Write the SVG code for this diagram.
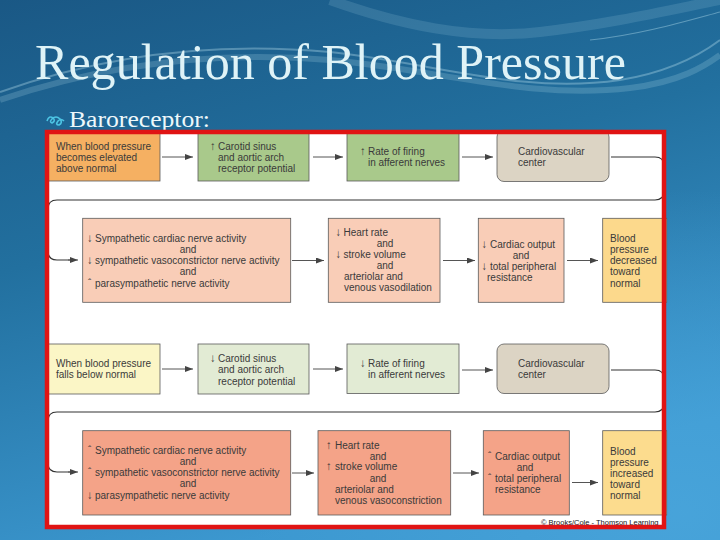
<svg xmlns="http://www.w3.org/2000/svg" width="720" height="540" viewBox="0 0 720 540">
<defs>
<linearGradient id="bg" x1="0" y1="0" x2="0.35" y2="1">
<stop offset="0" stop-color="#1a5885"/>
<stop offset="0.45" stop-color="#22709f"/>
<stop offset="1" stop-color="#3c98d0"/>
</linearGradient>
<radialGradient id="glow" cx="0.95" cy="0.95" r="0.6">
<stop offset="0" stop-color="#4aa6dc" stop-opacity="0.8"/>
<stop offset="1" stop-color="#4aa6dc" stop-opacity="0"/>
</radialGradient>
<marker id="ah" markerWidth="8" markerHeight="6" refX="8" refY="3" orient="auto" markerUnits="userSpaceOnUse">
<path d="M0,0 L8,3 L0,6 z" fill="#444"/>
</marker>
<style>
.box{stroke:#5a5a5a;stroke-width:0.8}
.t{font-family:"Liberation Sans",Arial,sans-serif;font-size:10px;fill:#3a3a3a}
.g{font-size:11.5px}
.m{text-anchor:middle}
.ar{stroke:#555;stroke-width:1;fill:none;marker-end:url(#ah)}
.cn{stroke:#333;stroke-width:1.2;fill:none}
</style>
</defs>
<rect width="720" height="540" fill="url(#bg)"/>
<rect width="720" height="540" fill="url(#glow)"/>
<g fill="none" stroke="#bfe6f2">
<path d="M0,92 C90,60 200,40 330,52 C430,62 520,95 620,80 C670,72 700,55 720,40" stroke-opacity="0.35" stroke-width="2"/>
<path d="M0,100 C100,66 210,50 330,60 C440,70 530,100 630,88 C680,82 705,66 720,55" stroke-opacity="0.2" stroke-width="6"/>
<path d="M330,0 C400,25 470,40 540,32 C610,24 670,10 720,0" stroke-opacity="0.15" stroke-width="10"/>
<path d="M590,40 C640,35 690,20 720,12" stroke-opacity="0.4" stroke-width="1.2"/>
</g>
<text x="35" y="79" font-family="'Liberation Serif','Times New Roman',serif" font-size="50" fill="#dff3f7" textLength="591" lengthAdjust="spacingAndGlyphs">Regulation of Blood Pressure</text>
<path d="M47,121 q2,-6 6,-3 q3,3 -1,5 q-3,-1 0,-4 q4,-4 8,0 q3,4 -1,6 q-4,0 -1,-4 q3,-3 6,0" fill="none" stroke="#4cc3e3" stroke-width="1.6"/>
<text x="69" y="127" font-family="'Liberation Serif','Times New Roman',serif" font-size="24" fill="#eef8fb" textLength="141" lengthAdjust="spacingAndGlyphs">Baroreceptor:</text>
<rect x="47" y="132" width="617" height="395" fill="#ffffff"/>

<g id="connectors">
<path class="ar" d="M162,157 H193"/>
<path class="ar" d="M313,157 H343"/>
<path class="ar" d="M462,157 H493"/>
<path class="cn" d="M611,157 H655 Q664,157 664,166 V191 Q664,200 655,200 H57 Q48,200 48,209 V251 Q48,260 57,260 H70"/>
<path class="ar" d="M68,260 H78"/>
<path class="ar" d="M292,260.5 H324"/>
<path class="ar" d="M443,260.5 H475"/>
<path class="ar" d="M567,260.5 H598"/>
<path class="ar" d="M162,369 H193"/>
<path class="ar" d="M313,369 H343"/>
<path class="ar" d="M462,370 H493"/>
<path class="cn" d="M611,370 H655 Q664,370 664,379 V403 Q664,412 655,412 H57 Q48,412 48,421 V463 Q48,472 57,472 H70"/>
<path class="ar" d="M68,472 H78"/>
<path class="ar" d="M292,473 H314"/>
<path class="ar" d="M453,473 H479"/>
<path class="ar" d="M572,482.5 H598"/>
</g>

<g id="n1"><rect class="box" x="48" y="133" width="112" height="48" fill="#f5b062"/>
<text class="t" x="56" y="150.2">When blood pressure</text>
<text class="t" x="56" y="161">becomes elevated</text>
<text class="t" x="56" y="172">above normal</text></g>

<g id="n2"><rect class="box" x="198" y="133" width="111" height="48" fill="#a9c98b"/>
<text class="t g" x="210" y="150.2">↑</text><text class="t" x="218" y="150.2">Carotid sinus</text>
<text class="t" x="218" y="161">and aortic arch</text>
<text class="t" x="218" y="172">receptor potential</text></g>

<g id="n3"><rect class="box" x="347" y="133" width="112" height="48" fill="#a9c98b"/>
<text class="t g" x="360" y="154.5">↑</text><text class="t" x="368" y="154.5">Rate of firing</text>
<text class="t" x="368" y="165.5">in afferent nerves</text></g>

<g id="n4"><rect class="box" x="497" y="130" width="112" height="51.5" rx="7" fill="#dcd4c4"/>
<text class="t" x="518" y="154.5">Cardiovascular</text>
<text class="t" x="518" y="165.5">center</text></g>

<g id="n5"><rect class="box" x="82.7" y="218.3" width="208" height="84" fill="#f9cdb7"/>
<text class="t g" x="87" y="241.8">↓</text><text class="t" x="95" y="241.8">Sympathetic cardiac nerve activity</text>
<text class="t m" x="188" y="253">and</text>
<text class="t g" x="87" y="264.2">↓</text><text class="t" x="95" y="264.2">sympathetic vasoconstrictor nerve activity</text>
<text class="t m" x="188" y="275.2">and</text>
<text class="t" x="88" y="286.5">ˆ</text><text class="t" x="95" y="286.5">parasympathetic nerve activity</text></g>

<g id="n6"><rect class="box" x="328.3" y="218.3" width="111.7" height="84" fill="#f9cdb7"/>
<text class="t g" x="335.5" y="235.8">↓</text><text class="t" x="343.5" y="235.8">Heart rate</text>
<text class="t m" x="385" y="247">and</text>
<text class="t g" x="335.5" y="258">↓</text><text class="t" x="343.5" y="258">stroke volume</text>
<text class="t m" x="385" y="269">and</text>
<text class="t" x="344" y="280.2">arteriolar and</text>
<text class="t" x="344" y="291.2">venous vasodilation</text></g>

<g id="n7"><rect class="box" x="478.3" y="218.3" width="85.7" height="84" fill="#f9cdb7"/>
<text class="t g" x="481.5" y="247.5">↓</text><text class="t" x="490" y="247.5">Cardiac output</text>
<text class="t m" x="521" y="258.8">and</text>
<text class="t g" x="481.5" y="270.2">↓</text><text class="t" x="490" y="270.2">total peripheral</text>
<text class="t" x="487" y="281.2">resistance</text></g>

<g id="n8"><rect class="box" x="602.7" y="218.3" width="64" height="84" fill="#fcd98c"/>
<text class="t" x="610" y="241.8">Blood</text>
<text class="t" x="610" y="253">pressure</text>
<text class="t" x="610" y="264.2">decreased</text>
<text class="t" x="610" y="275.2">toward</text>
<text class="t" x="610" y="286.5">normal</text></g>

<g id="n9"><rect class="box" x="48" y="344" width="112" height="50" fill="#fbf6c6"/>
<text class="t" x="56" y="366.8">When blood pressure</text>
<text class="t" x="56" y="377.5">falls below normal</text></g>

<g id="n10"><rect class="box" x="198" y="344" width="111" height="50" fill="#e2ebd4"/>
<text class="t g" x="210" y="361.8">↓</text><text class="t" x="218" y="361.8">Carotid sinus</text>
<text class="t" x="218" y="373.2">and aortic arch</text>
<text class="t" x="218" y="384.5">receptor potential</text></g>

<g id="n11"><rect class="box" x="347" y="344" width="112" height="49.5" fill="#e2ebd4"/>
<text class="t g" x="360" y="366.8">↓</text><text class="t" x="368" y="366.8">Rate of firing</text>
<text class="t" x="368" y="377.5">in afferent nerves</text></g>

<g id="n12"><rect class="box" x="497" y="344" width="112" height="49.5" rx="7" fill="#dcd4c4"/>
<text class="t" x="518" y="366.8">Cardiovascular</text>
<text class="t" x="518" y="377.5">center</text></g>

<g id="n13"><rect class="box" x="82.7" y="430.7" width="208" height="84.3" fill="#f4a388"/>
<text class="t" x="88" y="454.2">ˆ</text><text class="t" x="95" y="454.2">Sympathetic cardiac nerve activity</text>
<text class="t m" x="188" y="465.2">and</text>
<text class="t" x="88" y="476.2">ˆ</text><text class="t" x="95" y="476.2">sympathetic vasoconstrictor nerve activity</text>
<text class="t m" x="188" y="486.8">and</text>
<text class="t g" x="87" y="498.5">↓</text><text class="t" x="95" y="498.5">parasympathetic nerve activity</text></g>

<g id="n14"><rect class="box" x="318" y="430.7" width="132.7" height="84.3" fill="#f4a388"/>
<text class="t g" x="326" y="448.5">↑</text><text class="t" x="335" y="448.5">Heart rate</text>
<text class="t m" x="378" y="460.2">and</text>
<text class="t g" x="326" y="470.2">↑</text><text class="t" x="335" y="470.2">stroke volume</text>
<text class="t m" x="378" y="481.5">and</text>
<text class="t" x="335" y="492.8">arteriolar and</text>
<text class="t" x="335" y="504.2">venous vasoconstriction</text></g>

<g id="n15"><rect class="box" x="483.3" y="430.7" width="86" height="84.3" fill="#f4a388"/>
<text class="t" x="488" y="460.2">ˆ</text><text class="t" x="495" y="460.2">Cardiac output</text>
<text class="t m" x="525" y="470.8">and</text>
<text class="t" x="488" y="481.8">ˆ</text><text class="t" x="495" y="481.8">total peripheral</text>
<text class="t" x="495" y="492.5">resistance</text></g>

<g id="n16"><rect class="box" x="602.7" y="430.7" width="64" height="84.3" fill="#fcdc8e"/>
<text class="t" x="610" y="455.2">Blood</text>
<text class="t" x="610" y="466.2">pressure</text>
<text class="t" x="610" y="476.8">increased</text>
<text class="t" x="610" y="487.8">toward</text>
<text class="t" x="610" y="499.2">normal</text></g>

<text x="541" y="525.3" font-family="'Liberation Sans',Arial,sans-serif" font-size="7.5" fill="#111111">© Brooks/Cole - Thomson Learning</text>
<rect x="47" y="132" width="617" height="395" fill="none" stroke="#e01414" stroke-width="4.5"/>
</svg>
